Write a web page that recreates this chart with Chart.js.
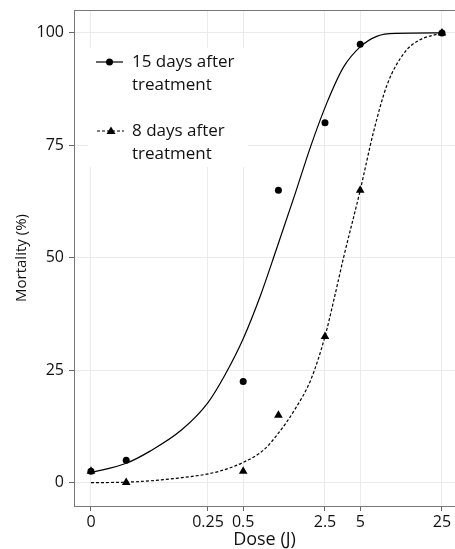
<!DOCTYPE html>
<html>
<head>
<meta charset="utf-8">
<script src="https://cdn.jsdelivr.net/npm/chart.js@4"></script>
<style>
  html, body { margin: 0; padding: 0; background: #fff; overflow: hidden; }
  canvas { display: block; }
</style>
</head>
<body>
<canvas id="chart" width="455" height="549"></canvas>
<script>
// observed mortality
const doses = [0, 0.05, 0.5, 1, 2.5, 5, 25];
const mort15 = [2.5, 5, 22.5, 65, 80, 97.5, 100];
const mort8 = [2.5, 0, 2.5, 15, 32.5, 65, 100];

// fitted curves
const fitDose15 = [0, 0.05, 0.08, 0.15, 0.25, 0.35, 0.5, 0.7, 0.95, 1.4, 1.9, 2.6, 3.6, 5, 7, 10, 25];
const fitMort15 = [2.2, 4.3, 7, 11.8, 17.8, 24, 32, 41.5, 51.5, 64.5, 75, 84.5, 92.4, 96.9, 99.3, 99.9, 100];
const fitDose8 = [0, 0.05, 0.15, 0.3, 0.5, 0.75, 1, 1.4, 1.9, 2.5, 3, 3.6, 5, 6.5, 8.5, 12, 16, 25];
const fitMort8 = [0, 0.1, 1.1, 2.4, 4.5, 7.3, 11, 16.5, 23, 32.5, 41, 50, 65, 78, 88.5, 95.7, 98.4, 100];

const tickDoses = [0, 0.25, 0.5, 2.5, 5, 25];
const tickLabels = ['0', '0.25', '0.5', '2.5', '5', '25'];
const yTicks = [0, 25, 50, 75, 100];
const legendLabels = [['15 days after', 'treatment'], ['8 days after', 'treatment']];

const ZERO_AT = 0.025; // where dose 0 sits on the log axis
const pos = d => d === 0 ? ZERO_AT : d;
const pts = (xs, ys) => xs.map((d, i) => ({ x: pos(d), y: ys[i] }));

const FONT = 'Open Sans';

const extras = {
  id: 'extras',
  afterDraw(chart) {
    const ctx = chart.ctx;
    const a = chart.chartArea;
    ctx.save();
    // top border
    ctx.strokeStyle = '#777';
    ctx.lineWidth = 1;
    ctx.beginPath();
    ctx.moveTo(a.left, a.top + 0.5);
    ctx.lineTo(a.right, a.top + 0.5);
    ctx.stroke();

    // legend
    ctx.fillStyle = '#fff';
    ctx.fillRect(88, 48, 160, 119);
    ctx.strokeStyle = '#000';
    ctx.fillStyle = '#000';
    ctx.lineWidth = 1.2;

    // 15 days
    ctx.beginPath();
    ctx.moveTo(96, 62); ctx.lineTo(123, 62);
    ctx.stroke();
    ctx.beginPath();
    ctx.arc(109.5, 62, 3.5, 0, Math.PI * 2);
    ctx.fill();

    // 8 days
    ctx.setLineDash([3, 2]);
    ctx.beginPath();
    ctx.moveTo(97, 131); ctx.lineTo(124, 131);
    ctx.stroke();
    ctx.setLineDash([]);
    ctx.beginPath();
    ctx.moveTo(111, 126.5); ctx.lineTo(115.5, 134); ctx.lineTo(106.5, 134);
    ctx.closePath();
    ctx.fill();

    ctx.font = '17px "' + FONT + '"';
    ctx.fillStyle = '#111';
    ctx.textBaseline = 'middle';
    ctx.textAlign = 'left';
    ctx.fillText(legendLabels[0][0], 132, 62);
    ctx.fillText(legendLabels[0][1], 132, 85);
    ctx.fillText(legendLabels[1][0], 132, 131);
    ctx.fillText(legendLabels[1][1], 132, 154);
    ctx.restore();
  }
};

new Chart(document.getElementById('chart'), {
  type: 'scatter',
  data: {
    datasets: [
      {
        label: '15 days fit',
        data: pts(fitDose15, fitMort15),
        showLine: true,
        borderColor: '#000',
        borderWidth: 1.2,
        pointRadius: 0,
        cubicInterpolationMode: 'monotone'
      },
      {
        label: '8 days fit',
        data: pts(fitDose8, fitMort8),
        showLine: true,
        borderColor: '#000',
        borderWidth: 1.2,
        borderDash: [3, 2],
        pointRadius: 0,
        cubicInterpolationMode: 'monotone'
      },
      {
        label: '15 days after treatment',
        data: pts(doses, mort15),
        pointStyle: 'circle',
        pointRadius: 3.5,
        backgroundColor: '#000',
        borderColor: '#000',
        borderWidth: 0
      },
      {
        label: '8 days after treatment',
        data: pts(doses, mort8),
        pointStyle: 'triangle',
        pointRadius: 5,
        backgroundColor: '#000',
        borderColor: '#000',
        borderWidth: 0
      }
    ]
  },
  options: {
    responsive: false,
    animation: false,
    devicePixelRatio: 1,
    layout: { autoPadding: false, padding: { top: 10, right: 0, left: 0, bottom: 0 } },
    plugins: {
      legend: { display: false },
      tooltip: { enabled: false }
    },
    scales: {
      x: {
        type: 'logarithmic',
        bounds: 'data',
        min: 0.0179,
        max: 32.3,
        afterBuildTicks: s => { s.ticks = tickDoses.map(d => ({ value: pos(d) })); },
        afterFit: s => { s.height = 43; s.paddingLeft = 0; s.paddingRight = 0; },
        ticks: {
          autoSkip: false,
          maxRotation: 0,
          padding: 2,
          color: '#111',
          font: { family: FONT, size: 16 },
          callback: (v, i) => tickLabels[i]
        },
        grid: { color: '#ebebeb', tickColor: '#666', tickLength: 5 },
        border: { color: '#777' },
        title: {
          display: true,
          text: 'Dose (J)',
          color: '#111',
          font: { family: FONT, size: 18, lineHeight: 1 },
          padding: { top: 0, bottom: 0 }
        }
      },
      y: {
        min: -5.2,
        max: 105.1,
        afterBuildTicks: s => { s.ticks = yTicks.map(v => ({ value: v })); },
        afterFit: s => { s.width = 74; s.paddingTop = 0; s.paddingBottom = 0; },
        ticks: {
          padding: 5,
          color: '#111',
          font: { family: FONT, size: 16 }
        },
        grid: { color: '#ebebeb', tickColor: '#666', tickLength: 5 },
        border: { color: '#777' },
        title: {
          display: true,
          text: 'Mortality (%)',
          color: '#111',
          font: { family: FONT, size: 15 },
          padding: { top: 13, bottom: 0 }
        }
      }
    }
  },
  plugins: [extras]
});
</script>
</body>
</html>
